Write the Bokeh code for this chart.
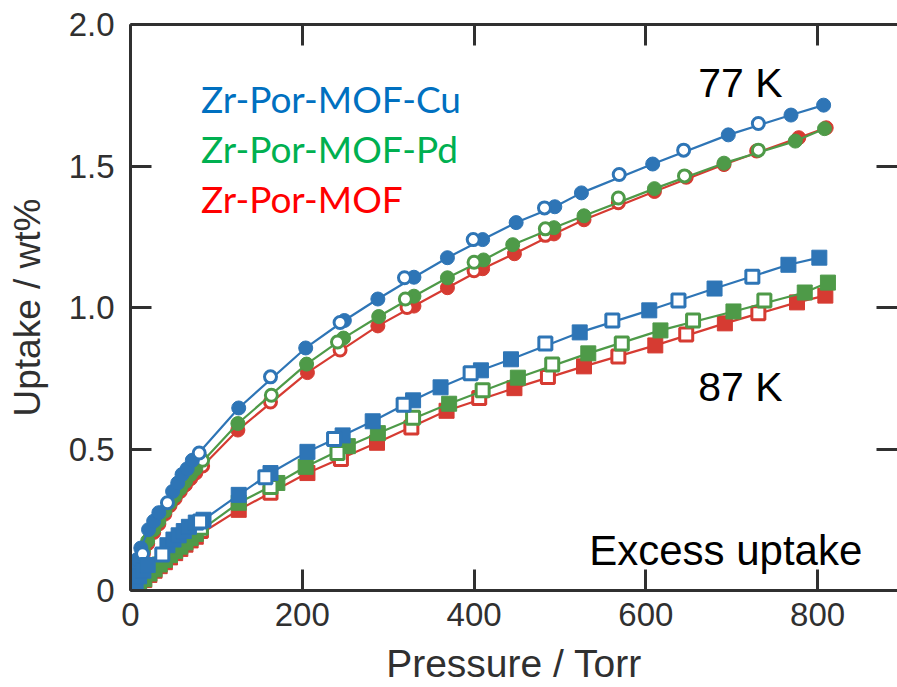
from bokeh.plotting import figure
from bokeh.models import (Range1d, LinearAxis, FixedTicker, CustomJSTickFormatter, Label,
                          CustomLabelingPolicy)
from bokeh.embed import file_html
from bokeh.resources import INLINE

# ---------------- data (Torr, wt%) ----------------
# 77 K, circles (filled = adsorption, open = desorption)
cu77_p_ads = [0.5, 1.5, 3, 5, 8, 12, 21, 27, 33, 49, 55, 60, 66, 72, 126, 204, 249, 288, 330, 369, 410, 449, 494, 525, 608, 696, 769, 807]
cu77_u_ads = [0.01, 0.03, 0.05, 0.08, 0.11, 0.15, 0.215, 0.245, 0.275, 0.35, 0.38, 0.41, 0.43, 0.46, 0.645, 0.857, 0.954, 1.03, 1.107, 1.176, 1.24, 1.30, 1.356, 1.405, 1.507, 1.61, 1.68, 1.715]
cu77_p_des = [14, 43, 80, 163, 244, 319, 399, 482, 569, 644, 731]
cu77_u_des = [0.13, 0.31, 0.486, 0.755, 0.947, 1.105, 1.24, 1.352, 1.47, 1.556, 1.65]

pd77_p_ads = [1, 3, 6, 10, 15, 20, 27, 33, 40, 46, 52, 58, 64, 70, 76, 125, 205, 248, 289, 330, 369, 411, 445, 493, 528, 610, 691, 774, 808]
pd77_u_ads = [0.01, 0.03, 0.06, 0.1, 0.14, 0.175, 0.215, 0.245, 0.28, 0.31, 0.335, 0.36, 0.385, 0.41, 0.43, 0.59, 0.80, 0.892, 0.968, 1.04, 1.105, 1.168, 1.222, 1.282, 1.324, 1.42, 1.51, 1.588, 1.632]
pd77_p_des = [84, 164, 241, 320, 400, 483, 568, 645, 731]
pd77_u_des = [0.46, 0.69, 0.878, 1.03, 1.16, 1.278, 1.387, 1.465, 1.556]

mof77_p_ads = [1, 3, 6, 10, 15, 20, 27, 33, 40, 46, 52, 58, 64, 70, 76, 125, 206, 288, 330, 369, 410, 447, 493, 528, 610, 691, 778, 810]
mof77_u_ads = [0.01, 0.03, 0.055, 0.09, 0.13, 0.165, 0.205, 0.235, 0.27, 0.3, 0.325, 0.35, 0.373, 0.395, 0.415, 0.567, 0.77, 0.935, 1.005, 1.07, 1.137, 1.19, 1.26, 1.31, 1.41, 1.505, 1.6, 1.635]
mof77_p_des = [84, 163, 244, 322, 400, 483, 568, 647, 729]
mof77_u_des = [0.44, 0.666, 0.85, 1.0, 1.13, 1.255, 1.37, 1.46, 1.553]

# 87 K, squares (filled = adsorption, open = desorption)
cu87_p_ads = [1, 3, 6, 10, 15, 20, 43, 50, 56, 62, 68, 76, 85, 126, 163, 206, 247, 282, 329, 361, 408, 443, 523, 604, 680, 766, 802]
cu87_u_ads = [0.005, 0.015, 0.03, 0.05, 0.07, 0.09, 0.16, 0.18, 0.195, 0.21, 0.225, 0.24, 0.25, 0.338, 0.415, 0.49, 0.548, 0.598, 0.672, 0.718, 0.778, 0.817, 0.912, 0.99, 1.067, 1.151, 1.176]
cu87_p_des = [37, 81, 157, 237, 318, 396, 483, 561, 638, 724]
cu87_u_des = [0.127, 0.244, 0.40, 0.535, 0.656, 0.768, 0.873, 0.954, 1.025, 1.109]

pd87_p_ads = [2, 5, 10, 16, 22, 28, 34, 40, 46, 52, 58, 64, 70, 76, 126, 171, 204, 253, 288, 371, 451, 533, 617, 702, 785, 812]
pd87_u_ads = [0.005, 0.012, 0.025, 0.04, 0.06, 0.075, 0.092, 0.108, 0.125, 0.14, 0.155, 0.17, 0.185, 0.2, 0.31, 0.38, 0.437, 0.51, 0.556, 0.66, 0.752, 0.838, 0.919, 0.986, 1.053, 1.088]
pd87_p_des = [82, 163, 241, 329, 410, 491, 572, 655, 738]
pd87_u_des = [0.222, 0.366, 0.486, 0.61, 0.708, 0.799, 0.873, 0.954, 1.025]

mof87_p_ads = [2, 5, 10, 16, 22, 28, 34, 40, 46, 52, 58, 64, 70, 76, 126, 206, 287, 368, 447, 528, 611, 692, 776, 809]
mof87_u_ads = [0.004, 0.01, 0.022, 0.037, 0.055, 0.07, 0.086, 0.1, 0.117, 0.132, 0.147, 0.162, 0.177, 0.19, 0.285, 0.415, 0.522, 0.635, 0.715, 0.792, 0.866, 0.944, 1.018, 1.042]
mof87_p_des = [82, 163, 245, 327, 406, 486, 568, 647, 731]
mof87_u_des = [0.21, 0.345, 0.465, 0.576, 0.68, 0.754, 0.827, 0.905, 0.98]

legend_names = ["Zr-Por-MOF-Cu", "Zr-Por-MOF-Pd", "Zr-Por-MOF"]
x_ticks = [0, 200, 400, 600, 800]
y_ticks = [0, 0.5, 1.0, 1.5, 2.0]

# ---------------- styles ----------------
BLUE, GREEN, RED = "#2E75B6", "#4E9A48", "#D63B32"
TXT_BLUE, TXT_GREEN, TXT_RED = "#0070C0", "#00B050", "#FF0000"
AX = "#303030"

p = figure(width=897, height=687, x_range=Range1d(0, 893), y_range=Range1d(0, 2.0),
           output_backend="svg", toolbar_location=None,
           x_axis_location=None, y_axis_location=None,
           min_border_left=130, min_border_right=0, min_border_top=24, min_border_bottom=96)
p.outline_line_color = None
p.grid.visible = False
p.background_fill_color = "white"
p.border_fill_color = "white"

bottom_ax = LinearAxis(ticker=FixedTicker(ticks=x_ticks), axis_label="Pressure / Torr")
left_ax = LinearAxis(ticker=FixedTicker(ticks=y_ticks), axis_label="Uptake / wt%",
                     formatter=CustomJSTickFormatter(code="return tick == 0 ? '0' : tick.toFixed(1);"))
no_labels = "for (const i of indices) { indices.unset(i) }\nreturn indices"
top_ax = LinearAxis(ticker=FixedTicker(ticks=x_ticks),
                    major_label_policy=CustomLabelingPolicy(code=no_labels))
right_ax = LinearAxis(ticker=FixedTicker(ticks=y_ticks),
                      major_label_policy=CustomLabelingPolicy(code=no_labels))
p.add_layout(bottom_ax, "below")
p.add_layout(left_ax, "left")
p.add_layout(top_ax, "above")
p.add_layout(right_ax, "right")

for ax in [bottom_ax, left_ax, top_ax, right_ax]:
    ax.axis_line_width = 3
    ax.axis_line_color = AX
    ax.major_tick_line_width = 3
    ax.major_tick_line_color = AX
    ax.major_tick_in = 21
    ax.major_tick_out = 0
    ax.minor_tick_line_color = None
    ax.major_label_text_font = "Liberation Sans"
    ax.major_label_text_font_size = "33px"
    ax.major_label_text_color = AX
    ax.axis_label_text_font = "Liberation Sans"
    ax.axis_label_text_font_size = "37px"
    ax.axis_label_text_font_style = "normal"
    ax.axis_label_text_color = AX

for ax in [top_ax, right_ax]:
    ax.major_label_standoff = 0
    ax.major_label_text_font_size = "0px"
right_ax.axis_line_color = None

bottom_ax.axis_label_text_font_size = "39px"
bottom_ax.major_label_standoff = 12
left_ax.major_label_standoff = 16
bottom_ax.axis_label_standoff = 13
left_ax.axis_label_standoff = 18

series = [
    (RED, mof77_p_ads, mof77_u_ads, mof77_p_des, mof77_u_des, "circle"),
    (GREEN, pd77_p_ads, pd77_u_ads, pd77_p_des, pd77_u_des, "circle"),
    (BLUE, cu77_p_ads, cu77_u_ads, cu77_p_des, cu77_u_des, "circle"),
    (RED, mof87_p_ads, mof87_u_ads, mof87_p_des, mof87_u_des, "square"),
    (GREEN, pd87_p_ads, pd87_u_ads, pd87_p_des, pd87_u_des, "square"),
    (BLUE, cu87_p_ads, cu87_u_ads, cu87_p_des, cu87_u_des, "square"),
]
for col, pa, ua, pdz, udz, mk in series:
    p.line(pa, ua, line_color=col, line_width=2.2)
    fs = 14 if mk == "circle" else 15
    p.scatter(pa, ua, marker=mk, size=fs, fill_color=col, line_color=col, line_width=1)
    p.scatter(pdz, udz, marker=mk, size=fs - 2, fill_color="white", line_color=col, line_width=3)

# legend-like coloured names
for name, col, yy in zip(legend_names, [TXT_BLUE, TXT_GREEN, TXT_RED], [1.739, 1.563, 1.384]):
    p.add_layout(Label(x=82, y=yy, text=name, text_color=col, text_font="Lato",
                       text_font_size="37px", text_baseline="alphabetic"))

p.add_layout(Label(x=661, y=1.792, text="77 K", text_color="black", text_font="Liberation Sans",
                   text_font_size="41px", text_baseline="alphabetic"))
p.add_layout(Label(x=661, y=0.718, text="87 K", text_color="black", text_font="Liberation Sans",
                   text_font_size="41px", text_baseline="alphabetic"))
p.add_layout(Label(x=534, y=0.141, text="Excess uptake", text_color="black", text_font="Liberation Sans",
                   text_font_size="42px", text_baseline="alphabetic"))

open("out.html", "w").write(file_html(p, INLINE))
